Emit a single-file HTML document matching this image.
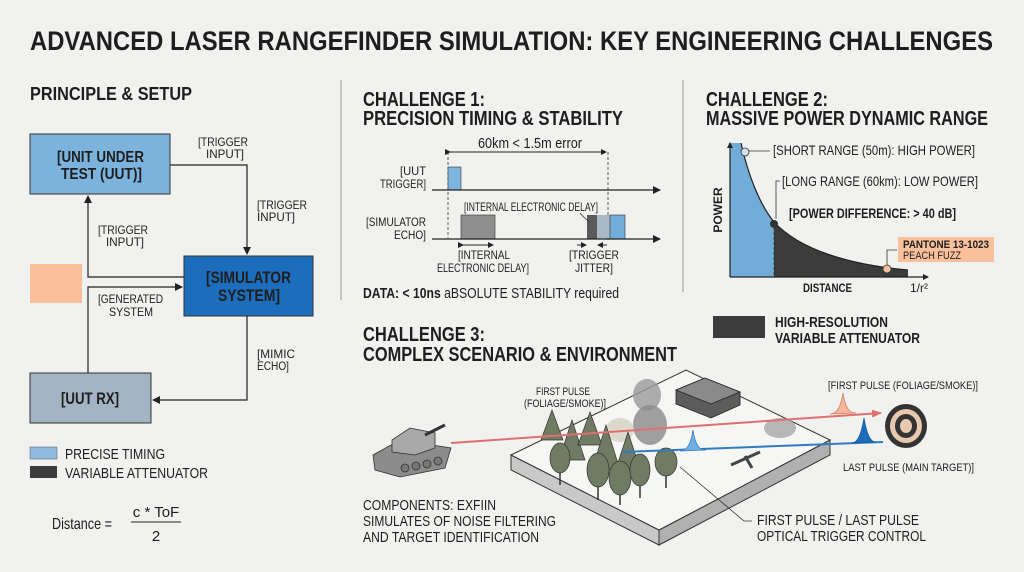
<!DOCTYPE html>
<html><head><meta charset="utf-8"><style>
html,body{margin:0;padding:0;background:#f1f1ef;}
svg{display:block;}
text{font-family:"Liberation Sans Narrow","Liberation Sans",sans-serif;fill:#1e1e1e;}
.b{font-weight:bold;}
</style></head><body>
<svg width="1024" height="572" viewBox="0 0 1024 572" xmlns="http://www.w3.org/2000/svg">
<defs>
<marker id="ar" markerWidth="8" markerHeight="8" refX="7" refY="4" orient="auto" markerUnits="userSpaceOnUse"><path d="M0,0 L8,4 L0,8 z" fill="#222"/></marker>
<marker id="ars" markerWidth="6" markerHeight="6" refX="5" refY="3" orient="auto" markerUnits="userSpaceOnUse"><path d="M0,0 L6,3 L0,6 z" fill="#222"/></marker>
<marker id="arr" markerWidth="10" markerHeight="8" refX="9" refY="4" orient="auto" markerUnits="userSpaceOnUse"><path d="M0,0 L10,4 L0,8 z" fill="#e07070"/></marker>
</defs>
<rect width="1024" height="572" fill="#f1f1ef"/>
<text x="30" y="50" class="b" font-size="27" textLength="963" lengthAdjust="spacingAndGlyphs">ADVANCED LASER RANGEFINDER SIMULATION: KEY ENGINEERING CHALLENGES</text>

<line x1="341" y1="80" x2="341" y2="300" stroke="#999" stroke-width="1"/>
<line x1="683" y1="80" x2="683" y2="292" stroke="#999" stroke-width="1"/>

<!-- Principle -->
<text x="30" y="100" class="b" font-size="18" textLength="162" lengthAdjust="spacingAndGlyphs">PRINCIPLE &amp; SETUP</text>
<rect x="30" y="134" width="140" height="60" fill="#7cb3dc" stroke="#333" stroke-width="1"/>
<text x="57" y="162" class="b" font-size="16" textLength="87" lengthAdjust="spacingAndGlyphs">[UNIT UNDER</text>
<text x="61" y="179" class="b" font-size="16" textLength="81" lengthAdjust="spacingAndGlyphs">TEST (UUT)]</text>
<rect x="184" y="256" width="129" height="60" fill="#1c6dbb" stroke="#333" stroke-width="1"/>
<text x="206" y="283" class="b" font-size="17" textLength="85" lengthAdjust="spacingAndGlyphs" fill="#1a1a2a">[SIMULATOR</text>
<text x="218" y="301" class="b" font-size="17" textLength="62" lengthAdjust="spacingAndGlyphs" fill="#1a1a2a">SYSTEM]</text>
<rect x="30" y="373" width="121" height="50" fill="#a2b3c3" stroke="#333" stroke-width="1"/>
<text x="61" y="404" class="b" font-size="17" textLength="58" lengthAdjust="spacingAndGlyphs">[UUT RX]</text>
<rect x="30" y="264" width="52" height="39" fill="#f9c09c"/>
<polyline points="170,165 247,165 247,254" fill="none" stroke="#222" stroke-width="1.2" marker-end="url(#ar)"/>
<polyline points="184,277 88,277 88,196" fill="none" stroke="#222" stroke-width="1.2" marker-end="url(#ar)"/>
<polyline points="88,373 88,287 182,287" fill="none" stroke="#222" stroke-width="1.2" marker-end="url(#ar)"/>
<polyline points="247,316 247,400 153,400" fill="none" stroke="#222" stroke-width="1.2" marker-end="url(#ar)"/>
<g font-size="12">
<text x="198" y="146" textLength="50" lengthAdjust="spacingAndGlyphs">[TRIGGER</text><text x="206" y="158" textLength="38" lengthAdjust="spacingAndGlyphs">INPUT]</text>
<text x="257" y="209" textLength="50" lengthAdjust="spacingAndGlyphs">[TRIGGER</text><text x="257" y="221" textLength="38" lengthAdjust="spacingAndGlyphs">INPUT]</text>
<text x="98" y="234" textLength="50" lengthAdjust="spacingAndGlyphs">[TRIGGER</text><text x="106" y="246" textLength="38" lengthAdjust="spacingAndGlyphs">INPUT]</text>
<text x="98" y="303" textLength="65" lengthAdjust="spacingAndGlyphs">[GENERATED</text><text x="109" y="316" textLength="44" lengthAdjust="spacingAndGlyphs">SYSTEM</text>
<text x="257" y="358" textLength="38" lengthAdjust="spacingAndGlyphs">[MIMIC</text><text x="257" y="370" textLength="32" lengthAdjust="spacingAndGlyphs">ECHO]</text>
</g>
<rect x="30" y="447" width="27" height="12" fill="#8fbce0" stroke="#555" stroke-width="0.5"/>
<text x="65" y="459" font-size="15" textLength="100" lengthAdjust="spacingAndGlyphs">PRECISE TIMING</text>
<rect x="30" y="466" width="27" height="12" fill="#3b3b3b"/>
<text x="65" y="478" font-size="15" textLength="143" lengthAdjust="spacingAndGlyphs">VARIABLE ATTENUATOR</text>
<text x="52" y="529" font-size="16" textLength="60" lengthAdjust="spacingAndGlyphs">Distance =</text>
<text x="156" y="517" font-size="15" text-anchor="middle">c * ToF</text>
<line x1="131" y1="522" x2="181" y2="522" stroke="#222" stroke-width="1"/>
<text x="156" y="541" font-size="15" text-anchor="middle">2</text>

<!-- Challenge 1 -->
<text x="363" y="106" class="b" font-size="20" textLength="122" lengthAdjust="spacingAndGlyphs">CHALLENGE 1:</text>
<text x="363" y="125" class="b" font-size="20" textLength="260" lengthAdjust="spacingAndGlyphs">PRECISION TIMING &amp; STABILITY</text>
<text x="478" y="148" font-size="15" textLength="104" lengthAdjust="spacingAndGlyphs">60km &lt; 1.5m error</text>
<line x1="450" y1="152" x2="606" y2="152" stroke="#222" stroke-width="1" marker-start="url(#ars)" marker-end="url(#ars)"/>
<line x1="448" y1="152" x2="448" y2="238" stroke="#333" stroke-width="0.8" stroke-dasharray="3,2"/>
<line x1="608" y1="152" x2="608" y2="240" stroke="#333" stroke-width="0.8" stroke-dasharray="3,2"/>
<text x="400" y="175" font-size="12" textLength="26" lengthAdjust="spacingAndGlyphs">[UUT</text>
<text x="380" y="188" font-size="12" textLength="46" lengthAdjust="spacingAndGlyphs">TRIGGER]</text>
<rect x="448" y="167" width="13" height="23" fill="#7fb5dd" stroke="#333" stroke-width="0.6"/>
<line x1="432" y1="190" x2="660" y2="190" stroke="#222" stroke-width="1.2" marker-end="url(#ar)"/>
<text x="366" y="226" font-size="12" textLength="60" lengthAdjust="spacingAndGlyphs">[SIMULATOR</text>
<text x="394" y="239" font-size="12" textLength="32" lengthAdjust="spacingAndGlyphs">ECHO]</text>
<rect x="461" y="215" width="34" height="24" fill="#8f8f8f" stroke="#333" stroke-width="0.6"/>
<rect x="587" y="215" width="10" height="24" fill="#5a5a5a"/>
<rect x="597" y="215" width="13" height="24" fill="#a9b8c4"/>
<rect x="610" y="215" width="15" height="24" fill="#72acd8" stroke="#333" stroke-width="0.6"/>
<line x1="432" y1="239" x2="660" y2="239" stroke="#222" stroke-width="1.2" marker-end="url(#ar)"/>
<text x="464" y="211" font-size="12" textLength="134" lengthAdjust="spacingAndGlyphs">[INTERNAL ELECTRONIC DELAY]</text>
<path d="M580,213 Q586,220 590,222" fill="none" stroke="#333" stroke-width="0.8"/>
<line x1="463" y1="245" x2="493" y2="245" stroke="#222" stroke-width="1" marker-start="url(#ars)" marker-end="url(#ars)"/>
<line x1="577" y1="245" x2="586" y2="245" stroke="#222" stroke-width="1" marker-end="url(#ars)"/>
<line x1="607" y1="245" x2="598" y2="245" stroke="#222" stroke-width="1" marker-end="url(#ars)"/>
<text x="458" y="259" font-size="12" textLength="52" lengthAdjust="spacingAndGlyphs">[INTERNAL</text>
<text x="437" y="272" font-size="12" textLength="92" lengthAdjust="spacingAndGlyphs">ELECTRONIC DELAY]</text>
<text x="569" y="259" font-size="12" textLength="50" lengthAdjust="spacingAndGlyphs">[TRIGGER</text>
<text x="575" y="272" font-size="12" textLength="38" lengthAdjust="spacingAndGlyphs">JITTER]</text>
<text x="363" y="298" font-size="15" textLength="256" lengthAdjust="spacingAndGlyphs"><tspan class="b">DATA: &lt; 10ns</tspan> aBSOLUTE STABILITY required</text>

<!-- Challenge 2 -->
<text x="706" y="106" class="b" font-size="20" textLength="122" lengthAdjust="spacingAndGlyphs">CHALLENGE 2:</text>
<text x="706" y="125" class="b" font-size="20" textLength="282" lengthAdjust="spacingAndGlyphs">MASSIVE POWER DYNAMIC RANGE</text>
<path d="M730,277 L730,143 L741,143 C748,175 760,205 774,222 L774,277 Z" fill="#72acd8"/>
<path d="M774,277 L774,222 C800,250 850,265 908,270 L908,277 Z" fill="#3b3b3b"/>
<path d="M741,143 C748,175 760,205 774,222 C800,250 850,265 908,270" fill="none" stroke="#222" stroke-width="1.2"/>
<line x1="774" y1="222" x2="774" y2="277" stroke="#333" stroke-width="0.8" stroke-dasharray="3,2"/>
<line x1="730" y1="277" x2="730" y2="143" stroke="#222" stroke-width="1.2" marker-end="url(#ars)"/>
<line x1="730" y1="277" x2="928" y2="277" stroke="#222" stroke-width="1.2" marker-end="url(#ars)"/>
<line x1="749" y1="151" x2="770" y2="151" stroke="#333" stroke-width="0.8"/>
<circle cx="745" cy="152" r="4" fill="#cfe3f3" stroke="#333" stroke-width="0.8"/>
<polyline points="780,181 776,181 776,219" fill="none" stroke="#333" stroke-width="0.8"/>
<circle cx="774" cy="224" r="4" fill="#333"/>
<polyline points="887,265 887,250 897,250" fill="none" stroke="#333" stroke-width="0.8"/>
<circle cx="887" cy="269" r="4" fill="#f9c09c" stroke="#333" stroke-width="0.8"/>
<text x="773" y="155" font-size="14" textLength="202" lengthAdjust="spacingAndGlyphs">[SHORT RANGE (50m): HIGH POWER]</text>
<text x="782" y="186" font-size="14" textLength="196" lengthAdjust="spacingAndGlyphs">[LONG RANGE (60km): LOW POWER]</text>
<text x="789" y="218" font-size="14" class="b" textLength="167" lengthAdjust="spacingAndGlyphs">[POWER DIFFERENCE: &gt; 40 dB]</text>
<rect x="898" y="237" width="96" height="25" fill="#f9c09c"/>
<text x="903" y="248" font-size="11" class="b" textLength="86" lengthAdjust="spacingAndGlyphs">PANTONE 13-1023</text>
<text x="903" y="259" font-size="11" textLength="58" lengthAdjust="spacingAndGlyphs">PEACH FUZZ</text>
<text x="722" y="210" font-size="12" class="b" transform="rotate(-90 722 210)" text-anchor="middle">POWER</text>
<text x="803" y="292" font-size="12" class="b" textLength="49" lengthAdjust="spacingAndGlyphs">DISTANCE</text>
<text x="910" y="292" font-size="12">1/r²</text>
<rect x="713" y="316" width="52" height="22" fill="#3b3b3b"/>
<text x="775" y="327" font-size="15" class="b" textLength="113" lengthAdjust="spacingAndGlyphs">HIGH-RESOLUTION</text>
<text x="775" y="343" font-size="15" class="b" textLength="145" lengthAdjust="spacingAndGlyphs">VARIABLE ATTENUATOR</text>

<!-- Challenge 3 -->
<text x="363" y="341" class="b" font-size="20" textLength="122" lengthAdjust="spacingAndGlyphs">CHALLENGE 3:</text>
<text x="363" y="361" class="b" font-size="20" textLength="314" lengthAdjust="spacingAndGlyphs">COMPLEX SCENARIO &amp; ENVIRONMENT</text>
<polygon points="511,455 659,530 659,545 511,470" fill="#c9c9c9" stroke="#333" stroke-width="1"/>
<polygon points="659,530 830,440 830,455 659,545" fill="#b0b0b0" stroke="#333" stroke-width="1"/>
<polygon points="511,455 686,370 830,440 659,530" fill="#f6f6f4" stroke="#333" stroke-width="1"/>
<ellipse cx="647" cy="395" rx="14" ry="16" fill="#9a9a9a" opacity="0.8"/>
<ellipse cx="650" cy="425" rx="17" ry="20" fill="#8a8a8a" opacity="0.8"/>
<ellipse cx="620" cy="430" rx="14" ry="12" fill="#d8d6c8" opacity="0.9"/>
<ellipse cx="780" cy="428" rx="16" ry="10" fill="#a8a8a8" opacity="0.8"/>
<polygon points="676,390 705,378 740,392 740,405 711,418 676,404" fill="#5c5c5c" stroke="#222" stroke-width="0.8"/>
<polygon points="676,390 705,378 740,392 711,404" fill="#8a8a8a" stroke="#222" stroke-width="0.8"/>
<g fill="#6f7b63" stroke="#333" stroke-width="0.7">
<path d="M552,410 L563,440 L541,440 Z"/><path d="M572,420 L585,460 L559,460 Z"/>
<path d="M590,412 L602,445 L578,445 Z"/><path d="M606,425 L620,470 L592,470 Z"/>
<path d="M628,432 L641,472 L615,472 Z"/><ellipse cx="598" cy="470" rx="11" ry="17"/>
<ellipse cx="620" cy="478" rx="11" ry="17"/><ellipse cx="640" cy="470" rx="10" ry="16"/>
<ellipse cx="666" cy="462" rx="11" ry="14"/><ellipse cx="560" cy="458" rx="10" ry="15"/>
</g>
<g stroke="#333" stroke-width="1.5">
<line x1="560" y1="473" x2="560" y2="485"/><line x1="598" y1="487" x2="598" y2="500"/>
<line x1="620" y1="495" x2="620" y2="505"/><line x1="640" y1="486" x2="640" y2="498"/>
<line x1="666" y1="476" x2="666" y2="488"/>
</g>
<path d="M731,465 L760,452 M745,456 L752,468" stroke="#444" stroke-width="3"/>
<g stroke="#333" stroke-width="0.8">
<path d="M373,455 L400,440 L451,448 L445,468 L400,477 L375,470 Z" fill="#8c8c8c"/>
<polygon points="392,440 410,428 435,433 435,448 415,455 392,452" fill="#a8a8a8"/>
<line x1="425" y1="435" x2="445" y2="425" stroke-width="3"/>
<circle cx="405" cy="468" r="4" fill="#777"/><circle cx="416" cy="466" r="4" fill="#777"/>
<circle cx="427" cy="464" r="4" fill="#777"/><circle cx="438" cy="461" r="4" fill="#777"/>
</g>
<line x1="451" y1="443" x2="881" y2="413" stroke="#e07070" stroke-width="2" marker-end="url(#arr)"/>
<line x1="622" y1="452" x2="883" y2="442" stroke="#2f7cc4" stroke-width="2"/>
<path d="M830,414 Q840,414 843,393 Q846,414 856,413 Z" fill="#f6b79a" stroke="#d07a5a" stroke-width="0.8"/>
<path d="M680,451 Q690,451 693,430 Q696,451 706,450 Z" fill="#6fb0e0" stroke="#2f7cc4" stroke-width="0.8"/>
<path d="M852,443 Q860,443 864,418 Q868,443 876,442 Z" fill="#1c6dbb" stroke="#1a5a9a" stroke-width="0.8"/>
<ellipse cx="906" cy="426" rx="21" ry="22" fill="#333"/>
<ellipse cx="906" cy="426" rx="16" ry="17" fill="#e8c9b0"/>
<ellipse cx="906" cy="426" rx="11" ry="12" fill="#333"/>
<ellipse cx="906" cy="426" rx="6" ry="7" fill="#e8c9b0"/>
<polyline points="680,467 744,521 752,521" fill="none" stroke="#333" stroke-width="0.8"/>
<g font-size="11">
<text x="536" y="395" textLength="54" lengthAdjust="spacingAndGlyphs">FIRST PULSE</text>
<text x="524" y="407" textLength="82" lengthAdjust="spacingAndGlyphs">(FOLIAGE/SMOKE)]</text>
<text x="828" y="389" textLength="150" lengthAdjust="spacingAndGlyphs">[FIRST PULSE (FOLIAGE/SMOKE)]</text>
<text x="843" y="471" textLength="131" lengthAdjust="spacingAndGlyphs">LAST PULSE (MAIN TARGET)]</text>
</g>
<g font-size="15">
<text x="363" y="510" textLength="133" lengthAdjust="spacingAndGlyphs">COMPONENTS: EXFIIN</text>
<text x="363" y="526" textLength="193" lengthAdjust="spacingAndGlyphs">SIMULATES OF NOISE FILTERING</text>
<text x="363" y="542" textLength="176" lengthAdjust="spacingAndGlyphs">AND TARGET IDENTIFICATION</text>
<text x="757" y="525" textLength="162" lengthAdjust="spacingAndGlyphs">FIRST PULSE / LAST PULSE</text>
<text x="757" y="541" textLength="169" lengthAdjust="spacingAndGlyphs">OPTICAL TRIGGER CONTROL</text>
</g>
</svg>
</body></html>
